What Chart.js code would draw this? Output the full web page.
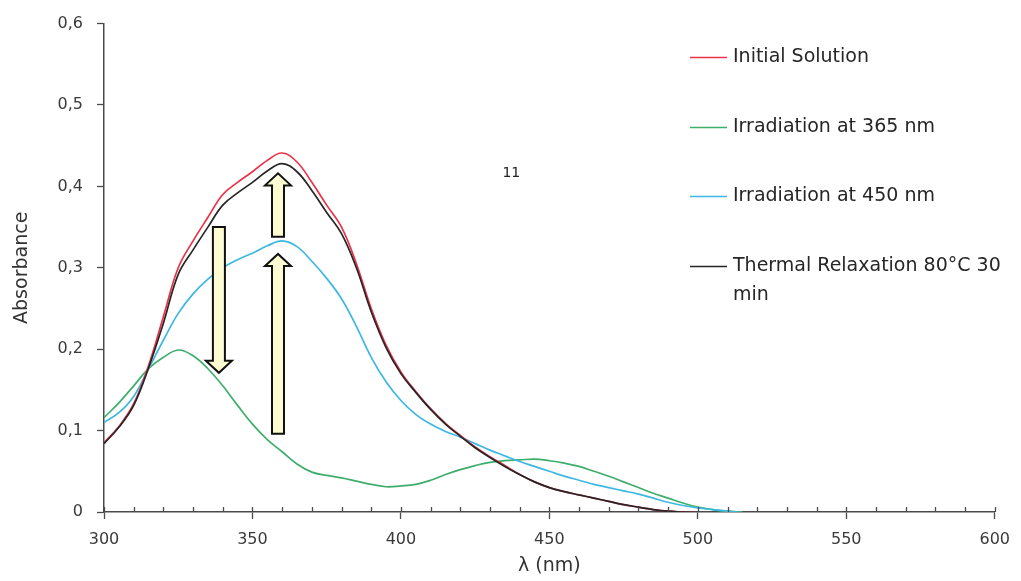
<!DOCTYPE html>
<html>
<head>
<meta charset="utf-8">
<script src="https://cdn.jsdelivr.net/npm/chart.js@4.4.1/dist/chart.umd.min.js"></script>
<style>
  html, body { margin: 0; padding: 0; background: #ffffff; }
  #wrap { width: 1021px; height: 581px; position: relative; }
</style>
</head>
<body>
<div id="wrap"><canvas id="spectra" width="1021" height="581"></canvas></div>
<script>
// Wavelength grid (nm), one sample every 5 nm
const wavelengths = [300,305,310,315,320,325,330,335,340,345,350,355,360,365,370,375,380,385,390,395,
                     400,405,410,415,420,425,430,435,440,445,450,455,460,465,470,475,480,485,490,495,
                     500,505,510,515,520];

// Absorbance of each spectrum on that grid
const initialSolution = [0.085,0.105,0.133,0.180,0.240,0.300,0.333,0.362,0.390,0.405,0.418,0.432,0.441,0.430,0.405,0.377,0.350,0.305,0.250,0.205,
                         0.172,0.148,0.127,0.109,0.094,0.080,0.068,0.057,0.046,0.037,0.030,0.025,0.021,0.017,0.013,0.009,0.006,0.003,0.001,0.000,
                         -0.001];
const irradiation365 = [0.116,0.134,0.155,0.176,0.190,0.199,0.192,0.176,0.155,0.131,0.108,0.089,0.074,0.059,0.049,0.045,0.042,0.038,0.034,0.031,
                        0.032,0.034,0.039,0.046,0.052,0.057,0.061,0.063,0.064,0.065,0.063,0.060,0.056,0.050,0.044,0.037,0.030,0.023,0.017,0.011,
                        0.006,0.003,0.001,0.000];
const irradiation450 = [0.110,0.122,0.142,0.176,0.211,0.244,0.268,0.286,0.300,0.310,0.318,0.327,0.333,0.326,0.308,0.287,0.262,0.228,0.190,0.160,
                        0.137,0.120,0.108,0.099,0.092,0.084,0.076,0.069,0.062,0.056,0.050,0.044,0.039,0.034,0.030,0.026,0.022,0.017,0.012,0.008,
                        0.005,0.003,0.001,-0.001,-0.001];
const thermalRelaxation = [0.084,0.104,0.131,0.177,0.232,0.292,0.322,0.350,0.377,0.392,0.405,0.419,0.428,0.418,0.395,0.368,0.342,0.300,0.246,0.202,
                           0.170,0.147,0.126,0.108,0.093,0.079,0.067,0.056,0.046,0.037,0.030,0.025,0.021,0.017,0.013,0.009,0.006,0.003,0.001,0.000,
                           -0.001];

// Legend / series labels
const seriesLabels = ['Initial Solution', 'Irradiation at 365 nm', 'Irradiation at 450 nm', 'Thermal Relaxation 80°C 30 min'];
const seriesColors = ['#ec3248', '#3fae6c', '#3db8e3', '#262626'];

// Axis ticks
const yTickValues = [0, 0.1, 0.2, 0.3, 0.4, 0.5, 0.6];
const xMajorStep = 50;
const xMinorStep = 10;

// Block arrows showing the direction of change: [wavelength, tail absorbance, tip absorbance]
const arrowWavelengths = [338.7, 358.6, 358.6];
const arrowTails = [0.350, 0.338, 0.096];
const arrowTips = [0.171, 0.416, 0.317];

// Compound number label: [wavelength, absorbance]
const compoundLabel = '11';
const compoundLabelAt = [437.2, 0.416];

function toPoints(values) {
  return values.map((v, i) => ({ x: wavelengths[i], y: v }));
}

const seriesValues = [initialSolution, irradiation365, irradiation450, thermalRelaxation];
const drawOrder = [1, 3, 2, 0];

const datasets = seriesValues.map((vals, i) => ({
  label: seriesLabels[i],
  data: toPoints(vals),
  borderColor: seriesColors[i],
  backgroundColor: seriesColors[i],
  borderWidth: 1.7,
  pointRadius: 0,
  fill: false,
  tension: 0.4,
  order: drawOrder[i]
}));

const FONT = "'DejaVu Sans', 'Liberation Sans', sans-serif";
const AXIS_COLOR = '#4a4a4a';

function fmtComma(v) {
  if (Math.abs(v) < 1e-9) return '0';
  return v.toFixed(1).replace('.', ',');
}

// Inward minor ticks on the wavelength axis, block arrows, compound label and legend
const decorations = {
  id: 'decorations',
  afterDatasetsDraw(chart) {
    const { ctx, chartArea, scales } = chart;
    const xs = scales.x, ys = scales.y;

    // inward ticks every 10 nm
    ctx.save();
    ctx.strokeStyle = AXIS_COLOR;
    ctx.lineWidth = 1.3;
    for (let v = xs.min; v <= xs.max + 1e-6; v += xMinorStep) {
      const px = Math.round(xs.getPixelForValue(v)) + 0.5;
      ctx.beginPath();
      ctx.moveTo(px, chartArea.bottom);
      ctx.lineTo(px, chartArea.bottom - 5);
      ctx.stroke();
    }
    ctx.restore();

    // arrows
    const shaftW = 12, headW = 26, headL = 12;
    ctx.save();
    ctx.fillStyle = '#fdfcd2';
    ctx.strokeStyle = '#111111';
    ctx.lineWidth = 2;
    ctx.lineJoin = 'miter';
    for (let i = 0; i < arrowWavelengths.length; i++) {
      const cx = xs.getPixelForValue(arrowWavelengths[i]);
      const tail = ys.getPixelForValue(arrowTails[i]);
      const tip = ys.getPixelForValue(arrowTips[i]);
      const s = tail > tip ? 1 : -1;
      const base = tip + s * headL;
      ctx.beginPath();
      ctx.moveTo(cx - shaftW / 2, tail);
      ctx.lineTo(cx - shaftW / 2, base);
      ctx.lineTo(cx - headW / 2, base);
      ctx.lineTo(cx, tip);
      ctx.lineTo(cx + headW / 2, base);
      ctx.lineTo(cx + shaftW / 2, base);
      ctx.lineTo(cx + shaftW / 2, tail);
      ctx.closePath();
      ctx.fill();
      ctx.stroke();
    }
    ctx.restore();

    // compound number
    ctx.save();
    ctx.fillStyle = '#222222';
    ctx.font = '14px ' + FONT;
    ctx.textAlign = 'center';
    ctx.textBaseline = 'middle';
    ctx.fillText(compoundLabel, xs.getPixelForValue(compoundLabelAt[0]), ys.getPixelForValue(compoundLabelAt[1]));
    ctx.restore();

    // legend
    const lx0 = 690, lx1 = 727, tx = 733, y0 = 57, gap = 69.7, wrapLH = 29, maxW = 268;
    ctx.save();
    ctx.font = '19px ' + FONT;
    ctx.textBaseline = 'middle';
    ctx.textAlign = 'left';
    chart.data.datasets.forEach((ds, i) => {
      const y = y0 + i * gap;
      ctx.strokeStyle = ds.borderColor;
      ctx.lineWidth = 1.5;
      ctx.beginPath();
      ctx.moveTo(lx0, Math.round(y) + 0.5);
      ctx.lineTo(lx1, Math.round(y) + 0.5);
      ctx.stroke();
      // wrap words to the legend width
      const words = ds.label.split(' ');
      const lines = [];
      let cur = '';
      words.forEach(w => {
        const test = cur ? cur + ' ' + w : w;
        if (ctx.measureText(test).width > maxW && cur) { lines.push(cur); cur = w; }
        else cur = test;
      });
      if (cur) lines.push(cur);
      ctx.fillStyle = '#262626';
      lines.forEach((ln, k) => ctx.fillText(ln, tx, y + k * wrapLH));
    });
    ctx.restore();
  }
};

new Chart(document.getElementById('spectra'), {
  type: 'line',
  data: { datasets },
  options: {
    responsive: false,
    animation: false,
    devicePixelRatio: 1,
    layout: { padding: { left: 0, right: 18, top: 22, bottom: 0 } },
    plugins: { legend: { display: false }, tooltip: { enabled: false } },
    scales: {
      x: {
        type: 'linear',
        min: 300,
        max: 600,
        afterFit(scale) { scale.height = 69; },
        afterBuildTicks(scale) {
          const t = [];
          for (let v = 300; v <= 600; v += xMinorStep) t.push({ value: v });
          scale.ticks = t;
        },
        ticks: {
          autoSkip: false,
          maxRotation: 0,
          padding: 11,
          color: '#3a3a3a',
          font: { family: FONT, size: 16 },
          callback: (v) => (v % xMajorStep === 0 ? String(v) : '')
        },
        grid: {
          drawOnChartArea: false,
          drawTicks: true,
          tickLength: 7,
          tickWidth: 1.3,
          tickColor: (c) => (c.tick && c.tick.value % xMajorStep === 0 ? AXIS_COLOR : 'rgba(0,0,0,0)')
        },
        border: { display: true, color: AXIS_COLOR, width: 1.5 },
        title: {
          display: true,
          text: 'λ (nm)',
          color: '#333333',
          font: { family: FONT, size: 19 },
          padding: { top: 0, bottom: 4 }
        }
      },
      y: {
        type: 'linear',
        min: 0,
        max: 0.6,
        afterFit(scale) { scale.width = 104; },
        afterBuildTicks(scale) { scale.ticks = yTickValues.map(v => ({ value: v })); },
        ticks: {
          padding: 14,
          color: '#3a3a3a',
          font: { family: FONT, size: 16 },
          callback: (v) => fmtComma(v)
        },
        grid: {
          drawOnChartArea: false,
          drawTicks: true,
          tickLength: 7,
          tickWidth: 1.3,
          tickColor: AXIS_COLOR
        },
        border: { display: true, color: AXIS_COLOR, width: 1.5 },
        title: {
          display: true,
          text: 'Absorbance',
          color: '#333333',
          font: { family: FONT, size: 19 },
          padding: { top: 11, bottom: 0 }
        }
      }
    }
  },
  plugins: [decorations]
});
</script>
</body>
</html>
